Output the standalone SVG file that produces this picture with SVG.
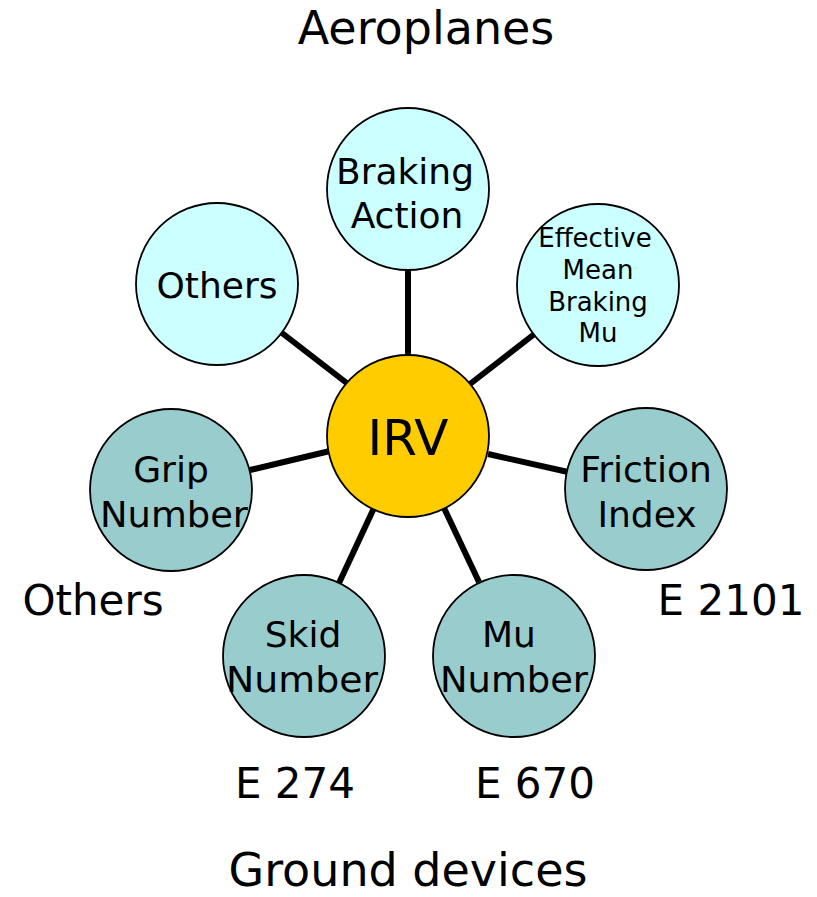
<svg xmlns="http://www.w3.org/2000/svg" width="817" height="897" viewBox="0 0 817 897">
<style>
text{font-family:"DejaVu Sans","Verdana",sans-serif;fill:#000;text-anchor:middle}
.air{fill:#CCFFFF;stroke:#000;stroke-width:1.8}
.gnd{fill:#99CCCC;stroke:#000;stroke-width:1.8}
.hub{fill:#FFCC00;stroke:#000;stroke-width:1.8}
.c{stroke:#000;stroke-width:6;fill:none}
.n{font-size:36px}
.s{font-size:26px}
.big{font-size:46px}
.lbl{font-size:42px}
</style>
<rect width="817" height="897" fill="#fff"/>
<g id="connectors">
<line class="c" x1="408" y1="266" x2="408" y2="356"/>
<line class="c" x1="537" y1="332" x2="470" y2="384"/>
<line class="c" x1="282" y1="333" x2="348" y2="384"/>
<line class="c" x1="250" y1="470" x2="330" y2="451"/>
<line class="c" x1="488" y1="454" x2="568" y2="472"/>
<line class="c" x1="339" y1="583" x2="374" y2="508"/>
<line class="c" x1="479" y1="582" x2="444" y2="508"/>
</g>
<g id="braking-action">
<circle class="air" cx="408" cy="189" r="81"/>
<text class="n" x="405" y="184" textLength="138" lengthAdjust="spacingAndGlyphs">Braking</text>
<text class="n" x="407" y="228">Action</text>
</g>
<g id="effective-mean-braking-mu">
<circle class="air" cx="598" cy="285" r="81"/>
<text class="s" x="595" y="247">Effective</text>
<text class="s" x="598" y="279">Mean</text>
<text class="s" x="598" y="311">Braking</text>
<text class="s" x="598" y="342">Mu</text>
</g>
<g id="others-air">
<circle class="air" cx="217" cy="284" r="81"/>
<text class="n" x="217" y="298">Others</text>
</g>
<g id="grip-number">
<circle class="gnd" cx="171" cy="490" r="81"/>
<text class="n" x="171" y="482">Grip</text>
<text class="n" x="174" y="527" textLength="148" lengthAdjust="spacingAndGlyphs">Number</text>
</g>
<g id="friction-index">
<circle class="gnd" cx="646" cy="489" r="81"/>
<text class="n" x="646" y="482">Friction</text>
<text class="n" x="647" y="527">Index</text>
</g>
<g id="skid-number">
<circle class="gnd" cx="304" cy="656" r="81"/>
<text class="n" x="303" y="647">Skid</text>
<text class="n" x="302" y="692" textLength="152" lengthAdjust="spacingAndGlyphs">Number</text>
</g>
<g id="mu-number">
<circle class="gnd" cx="514" cy="656" r="81"/>
<text class="n" x="509" y="647">Mu</text>
<text class="n" x="514" y="692" textLength="148" lengthAdjust="spacingAndGlyphs">Number</text>
</g>
<g id="irv">
<circle class="hub" cx="408" cy="436" r="81"/>
<text x="408" y="455" style="font-size:50px">IRV</text>
</g>
<g id="labels">
<text class="big" x="426" y="44">Aeroplanes</text>
<text class="big" x="408" y="886">Ground devices</text>
<text class="lbl" x="93" y="615">Others</text>
<text class="lbl" x="731" y="615">E 2101</text>
<text class="lbl" x="295" y="798">E 274</text>
<text class="lbl" x="535" y="798">E 670</text>
</g>
</svg>
